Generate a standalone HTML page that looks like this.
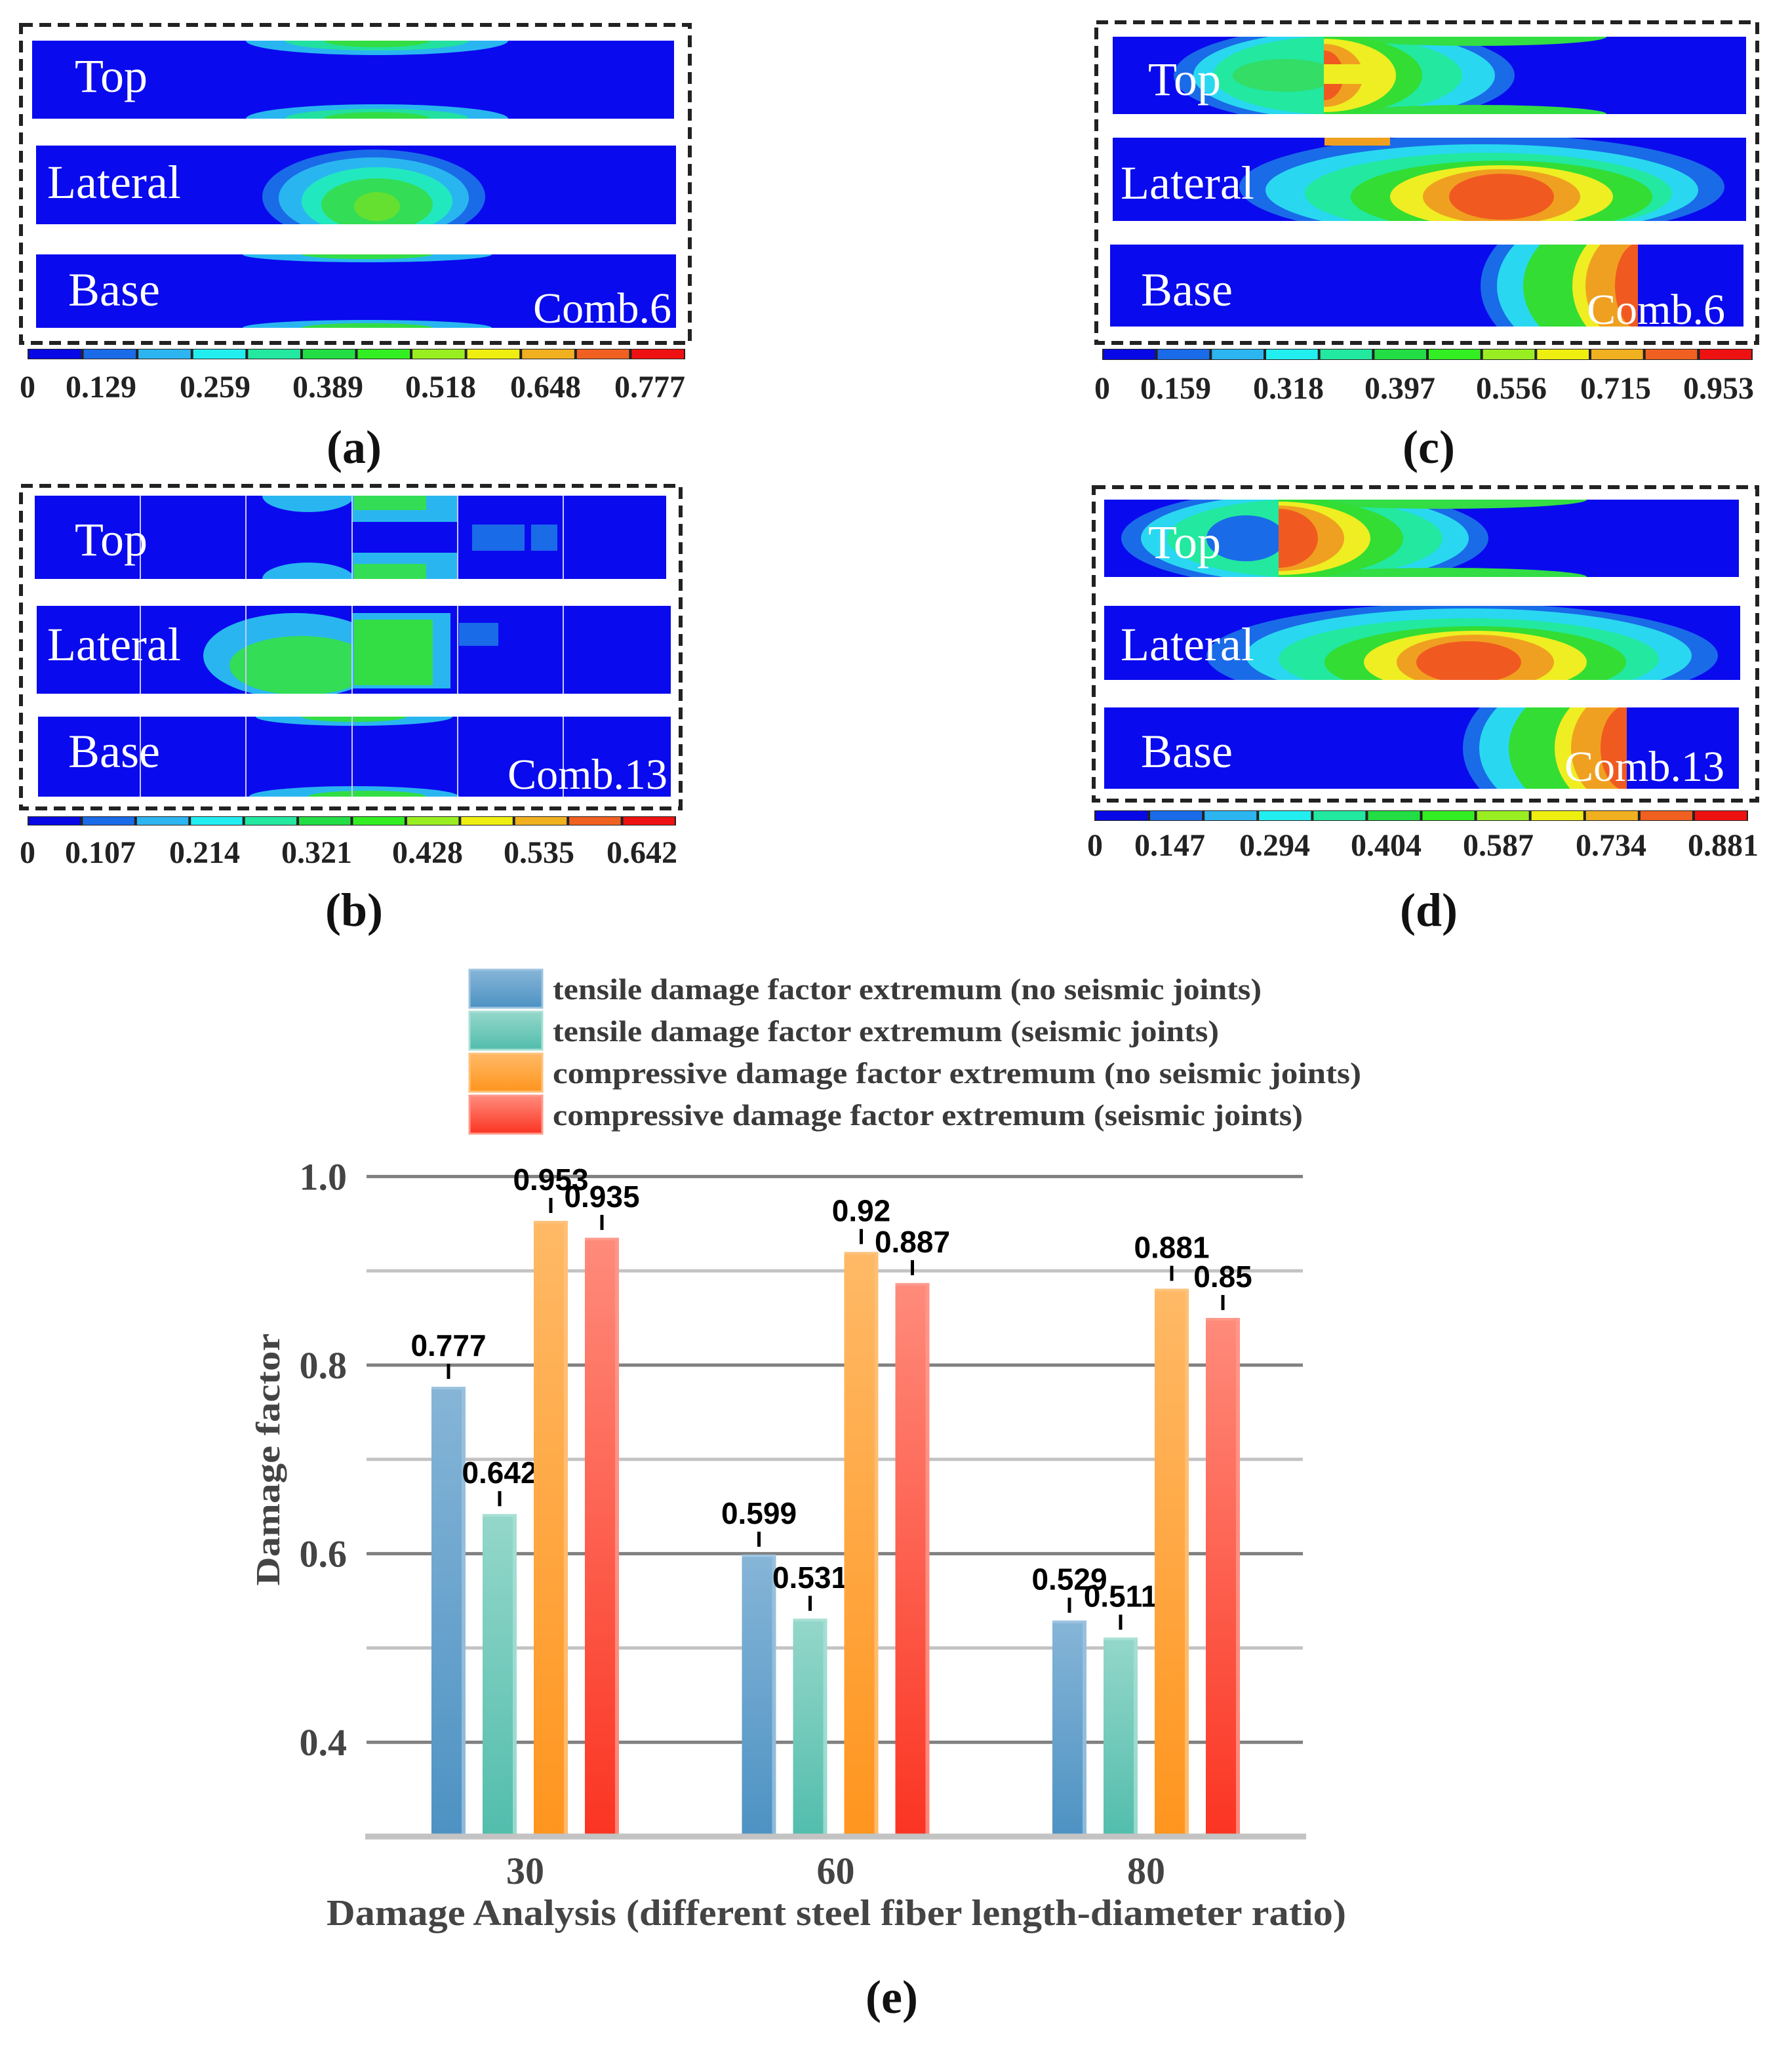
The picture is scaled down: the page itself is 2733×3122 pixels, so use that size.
<!DOCTYPE html>
<html><head><meta charset="utf-8"><style>
html,body{margin:0;padding:0;background:#fff;}
svg{display:block;}
.st{font-family:"Liberation Serif",serif;fill:#fff;}
.cb{font-family:"Liberation Serif",serif;font-weight:bold;fill:#222;font-size:48px;}
.pl{font-family:"Liberation Serif",serif;font-weight:bold;fill:#111;font-size:72px;}
.ax{font-family:"Liberation Serif",serif;font-weight:bold;fill:#444;}
.lg{font-family:"Liberation Serif",serif;font-weight:bold;fill:#3a3a3a;}
.dl{font-family:"Liberation Sans",Arial,sans-serif;font-weight:bold;fill:#000;font-size:46px;}
</style></head><body>
<svg id="fig" width="2733" height="3122" viewBox="0 0 2733 3122" xmlns="http://www.w3.org/2000/svg">
<defs>
 <linearGradient id="gBlue" x1="0" y1="0" x2="0" y2="1"><stop offset="0" stop-color="#86b5d7"/><stop offset="1" stop-color="#4d92c3"/></linearGradient>
 <linearGradient id="gTeal" x1="0" y1="0" x2="0" y2="1"><stop offset="0" stop-color="#94d7ca"/><stop offset="1" stop-color="#52bdac"/></linearGradient>
 <linearGradient id="gOrange" x1="0" y1="0" x2="0" y2="1"><stop offset="0" stop-color="#ffb966"/><stop offset="1" stop-color="#ff951e"/></linearGradient>
 <linearGradient id="gRed" x1="0" y1="0" x2="0" y2="1"><stop offset="0" stop-color="#ff8b7b"/><stop offset="1" stop-color="#fb3422"/></linearGradient>
 <clipPath id="cA1"><rect x="49" y="62" width="979" height="119"/></clipPath>
 <clipPath id="cA2"><rect x="55" y="222" width="976" height="120"/></clipPath>
 <clipPath id="cA3"><rect x="55" y="388" width="976" height="112"/></clipPath>
 <clipPath id="cB1"><rect x="53" y="756" width="963" height="127"/></clipPath>
 <clipPath id="cB2"><rect x="56" y="924" width="967" height="134"/></clipPath>
 <clipPath id="cB3"><rect x="58" y="1093" width="965" height="122"/></clipPath>
 <clipPath id="cC1"><rect x="1697" y="56" width="966" height="118"/></clipPath>
 <clipPath id="cC1r"><rect x="2019" y="56" width="644" height="118"/></clipPath>
 <clipPath id="cC2"><rect x="1697" y="210" width="966" height="127"/></clipPath>
 <clipPath id="cC3"><rect x="1693" y="373" width="805" height="125"/></clipPath>
 <clipPath id="cD1"><rect x="1684" y="762" width="968" height="118"/></clipPath>
 <clipPath id="cD1r"><rect x="1950" y="762" width="702" height="118"/></clipPath>
 <clipPath id="cD2"><rect x="1684" y="924" width="970" height="113"/></clipPath>
 <clipPath id="cD3"><rect x="1684" y="1079" width="797" height="124"/></clipPath>
</defs>

<!-- Panel a -->
<g>
 <rect x="32" y="38" width="1020" height="485" fill="none" stroke="#222" stroke-width="6" stroke-dasharray="18 10"/>
 <rect x="49" y="62" width="979" height="119" fill="#0a0aee"/>
 <g clip-path="url(#cA1)">
  <ellipse cx="575" cy="62" rx="200" ry="22" fill="#29b6f0"/><ellipse cx="575" cy="62" rx="140" ry="15" fill="#22e0a0"/><ellipse cx="575" cy="62" rx="80" ry="10" fill="#33dd44"/>
  <ellipse cx="575" cy="181" rx="200" ry="22" fill="#29b6f0"/><ellipse cx="575" cy="181" rx="140" ry="15" fill="#22e0a0"/><ellipse cx="575" cy="181" rx="80" ry="10" fill="#33dd44"/>
 </g>
 <rect x="55" y="222" width="976" height="120" fill="#0a0aee"/>
 <g clip-path="url(#cA2)">
  <ellipse cx="570" cy="300" rx="170" ry="72" fill="#1a6be8"/><ellipse cx="570" cy="302" rx="145" ry="62" fill="#29b6f0"/><ellipse cx="575" cy="307" rx="115" ry="52" fill="#22e8c0"/><ellipse cx="575" cy="312" rx="85" ry="40" fill="#33dd55"/><ellipse cx="575" cy="315" rx="35" ry="22" fill="#66e030"/>
 </g>
 <rect x="55" y="388" width="976" height="112" fill="#0a0aee"/>
 <g clip-path="url(#cA3)">
  <ellipse cx="560" cy="388" rx="190" ry="12" fill="#29b6f0"/><ellipse cx="560" cy="388" rx="100" ry="7" fill="#33dd44"/>
  <ellipse cx="560" cy="500" rx="190" ry="12" fill="#29b6f0"/><ellipse cx="560" cy="500" rx="100" ry="7" fill="#33dd44"/>
 </g>
 <text class="st" font-family="Liberation Serif, serif" x="114" y="140" font-size="72">Top</text>
 <text class="st" font-family="Liberation Serif, serif" x="72" y="302" font-size="72">Lateral</text>
 <text class="st" font-family="Liberation Serif, serif" x="104" y="466" font-size="72">Base</text>
 <text class="st" font-family="Liberation Serif, serif" x="1024" y="492" font-size="66" text-anchor="end">Comb.6</text>
 <g class="cbar" data-x0="42" data-x1="1045" data-y="532" data-h="16"></g>
 <text class="cb" x="42" y="606" text-anchor="middle">0</text><text class="cb" x="154" y="606" text-anchor="middle">0.129</text><text class="cb" x="328" y="606" text-anchor="middle">0.259</text><text class="cb" x="500" y="606" text-anchor="middle">0.389</text><text class="cb" x="672" y="606" text-anchor="middle">0.518</text><text class="cb" x="832" y="606" text-anchor="middle">0.648</text><text class="cb" x="991" y="606" text-anchor="middle">0.777</text>
 <text class="pl" x="540" y="706" text-anchor="middle">(a)</text>
</g>

<!-- Panel b -->
<g>
 <rect x="53" y="756" width="963" height="127" fill="#0a0aee"/>
 <g clip-path="url(#cB1)">
  <ellipse cx="470" cy="756" rx="70" ry="25" fill="#29b6f0"/>
  <ellipse cx="470" cy="883" rx="70" ry="25" fill="#29b6f0"/>
  <rect x="537" y="756" width="161" height="40" fill="#29b6f0"/><rect x="540" y="756" width="110" height="22" fill="#33dd55"/>
  <rect x="537" y="843" width="161" height="40" fill="#29b6f0"/><rect x="540" y="860" width="110" height="23" fill="#33dd55"/>
  <rect x="720" y="800" width="80" height="40" fill="#1a6be8"/><rect x="810" y="800" width="40" height="40" fill="#1a6be8"/>
 </g>
 <rect x="56" y="924" width="967" height="134" fill="#0a0aee"/>
 <g clip-path="url(#cB2)">
  <ellipse cx="450" cy="1000" rx="140" ry="65" fill="#29b6f0"/><ellipse cx="460" cy="1015" rx="110" ry="45" fill="#33dd55"/>
  <rect x="537" y="935" width="150" height="115" fill="#29b6f0"/><rect x="540" y="945" width="120" height="100" fill="#33dd44"/>
  <rect x="700" y="950" width="60" height="35" fill="#1a6be8"/>
 </g>
 <rect x="58" y="1093" width="965" height="122" fill="#0a0aee"/>
 <g clip-path="url(#cB3)">
  <ellipse cx="540" cy="1093" rx="150" ry="14" fill="#29b6f0"/><ellipse cx="540" cy="1093" rx="80" ry="8" fill="#33dd44"/>
  <ellipse cx="540" cy="1215" rx="160" ry="16" fill="#29b6f0"/><ellipse cx="560" cy="1215" rx="90" ry="9" fill="#33dd44"/>
 </g>
 <g stroke="#c8c8ff" stroke-width="2">
  <line x1="214" y1="756" x2="214" y2="1215"/><line x1="375" y1="756" x2="375" y2="1215"/><line x1="537" y1="756" x2="537" y2="1215"/><line x1="698" y1="756" x2="698" y2="1215"/><line x1="859" y1="756" x2="859" y2="1215"/>
 </g>
 <rect x="45" y="883" width="985" height="41" fill="#fff"/><rect x="45" y="1058" width="985" height="35" fill="#fff"/>
 <rect x="32" y="741" width="1006" height="492" fill="none" stroke="#222" stroke-width="6" stroke-dasharray="18 10"/>
 <text class="st" font-family="Liberation Serif, serif" x="114" y="847" font-size="72">Top</text>
 <text class="st" font-family="Liberation Serif, serif" x="72" y="1007" font-size="72">Lateral</text>
 <text class="st" font-family="Liberation Serif, serif" x="104" y="1170" font-size="72">Base</text>
 <text class="st" font-family="Liberation Serif, serif" x="1018" y="1203" font-size="66" text-anchor="end">Comb.13</text>
 <g class="cbar" data-x0="42" data-x1="1031" data-y="1245" data-h="14"></g>
 <text class="cb" x="42" y="1316" text-anchor="middle">0</text><text class="cb" x="153" y="1316" text-anchor="middle">0.107</text><text class="cb" x="312" y="1316" text-anchor="middle">0.214</text><text class="cb" x="483" y="1316" text-anchor="middle">0.321</text><text class="cb" x="652" y="1316" text-anchor="middle">0.428</text><text class="cb" x="822" y="1316" text-anchor="middle">0.535</text><text class="cb" x="979" y="1316" text-anchor="middle">0.642</text>
 <text class="pl" x="540" y="1412" text-anchor="middle">(b)</text>
</g>

<!-- Panel c -->
<g>
 <rect x="1697" y="56" width="966" height="118" fill="#0a0aee"/>
 <g clip-path="url(#cC1)">
  <ellipse cx="2050" cy="115" rx="260" ry="75" fill="#1a6be8"/>
  <ellipse cx="2050" cy="115" rx="230" ry="68" fill="#29d8f0"/>
  <ellipse cx="2040" cy="115" rx="190" ry="60" fill="#22e8a0"/>
  <ellipse cx="2250" cy="56" rx="200" ry="14" fill="#33dd44"/><ellipse cx="2250" cy="174" rx="200" ry="14" fill="#33dd44"/>
  <ellipse cx="1960" cy="115" rx="80" ry="25" fill="#33dd66"/>
 </g>
 <g clip-path="url(#cC1r)">
  <ellipse cx="2019" cy="115" rx="150" ry="62" fill="#33dd33"/><ellipse cx="2019" cy="115" rx="110" ry="56" fill="#eeee22"/><ellipse cx="2019" cy="115" rx="60" ry="48" fill="#f0a020"/><ellipse cx="2019" cy="115" rx="30" ry="38" fill="#f05a20"/>
  <rect x="2019" y="98" width="60" height="30" fill="#eeee22"/>
 </g>
 <rect x="1697" y="210" width="966" height="127" fill="#0a0aee"/>
 <g clip-path="url(#cC2)">
  <ellipse cx="2260" cy="285" rx="370" ry="80" fill="#1a6be8"/><ellipse cx="2260" cy="290" rx="330" ry="70" fill="#29d8f0"/><ellipse cx="2270" cy="295" rx="280" ry="62" fill="#22e8a0"/><ellipse cx="2290" cy="300" rx="230" ry="55" fill="#33dd33"/><ellipse cx="2290" cy="300" rx="170" ry="48" fill="#eeee22"/><ellipse cx="2290" cy="300" rx="120" ry="42" fill="#f0a020"/><ellipse cx="2290" cy="300" rx="80" ry="35" fill="#f05a20"/>
  <rect x="2020" y="210" width="100" height="12" fill="#f0a020"/>
 </g>
 <rect x="1693" y="373" width="966" height="125" fill="#0a0aee"/>
 <g clip-path="url(#cC3)">
  <ellipse cx="2498" cy="436" rx="240" ry="140" fill="#1a6be8"/><ellipse cx="2498" cy="436" rx="215" ry="130" fill="#29d8f0"/><ellipse cx="2498" cy="436" rx="175" ry="120" fill="#33dd33"/><ellipse cx="2498" cy="436" rx="100" ry="100" fill="#eeee22"/><ellipse cx="2498" cy="436" rx="80" ry="90" fill="#f0a020"/><ellipse cx="2498" cy="436" rx="35" ry="65" fill="#f05a20"/>
 </g>
 <rect x="1685" y="174" width="985" height="36" fill="#fff"/><rect x="1685" y="337" width="985" height="36" fill="#fff"/>
 <rect x="1672" y="34" width="1008" height="489" fill="none" stroke="#222" stroke-width="6" stroke-dasharray="18 10"/>
 <text class="st" font-family="Liberation Serif, serif" x="1751" y="145" font-size="72">Top</text>
 <text class="st" font-family="Liberation Serif, serif" x="1709" y="303" font-size="72">Lateral</text>
 <text class="st" font-family="Liberation Serif, serif" x="1740" y="466" font-size="72">Base</text>
 <text class="st" font-family="Liberation Serif, serif" x="2631" y="494" font-size="66" text-anchor="end">Comb.6</text>
 <g class="cbar" data-x0="1681" data-x1="2673" data-y="532" data-h="17"></g>
 <text class="cb" x="1681" y="608" text-anchor="middle">0</text><text class="cb" x="1793" y="608" text-anchor="middle">0.159</text><text class="cb" x="1965" y="608" text-anchor="middle">0.318</text><text class="cb" x="2135" y="608" text-anchor="middle">0.397</text><text class="cb" x="2305" y="608" text-anchor="middle">0.556</text><text class="cb" x="2464" y="608" text-anchor="middle">0.715</text><text class="cb" x="2621" y="608" text-anchor="middle">0.953</text>
 <text class="pl" x="2179" y="706" text-anchor="middle">(c)</text>
</g>

<!-- Panel d -->
<g>
 <rect x="1684" y="762" width="968" height="118" fill="#0a0aee"/>
 <g clip-path="url(#cD1)">
  <ellipse cx="1990" cy="821" rx="280" ry="75" fill="#1a6be8"/><ellipse cx="1990" cy="821" rx="250" ry="68" fill="#29d8f0"/><ellipse cx="1990" cy="821" rx="210" ry="60" fill="#22e8a0"/>
  <ellipse cx="2200" cy="762" rx="220" ry="14" fill="#33dd44"/><ellipse cx="2200" cy="880" rx="220" ry="14" fill="#33dd44"/>
  <ellipse cx="1900" cy="821" rx="60" ry="35" fill="#1a6be8"/>
 </g>
 <g clip-path="url(#cD1r)">
  <ellipse cx="1950" cy="821" rx="190" ry="62" fill="#33dd33"/><ellipse cx="1950" cy="821" rx="140" ry="56" fill="#eeee22"/><ellipse cx="1950" cy="821" rx="100" ry="50" fill="#f0a020"/><ellipse cx="1950" cy="821" rx="60" ry="45" fill="#f05a20"/>
 </g>
 <rect x="1684" y="924" width="970" height="113" fill="#0a0aee"/>
 <g clip-path="url(#cD2)">
  <ellipse cx="2230" cy="1000" rx="390" ry="80" fill="#1a6be8"/><ellipse cx="2240" cy="1000" rx="340" ry="72" fill="#29d8f0"/><ellipse cx="2240" cy="1005" rx="290" ry="62" fill="#22e8a0"/><ellipse cx="2250" cy="1010" rx="230" ry="55" fill="#33dd33"/><ellipse cx="2250" cy="1010" rx="170" ry="48" fill="#eeee22"/><ellipse cx="2250" cy="1010" rx="120" ry="42" fill="#f0a020"/><ellipse cx="2240" cy="1010" rx="80" ry="32" fill="#f05a20"/>
 </g>
 <rect x="1684" y="1079" width="968" height="124" fill="#0a0aee"/>
 <g clip-path="url(#cD3)">
  <ellipse cx="2481" cy="1141" rx="250" ry="140" fill="#1a6be8"/><ellipse cx="2481" cy="1141" rx="225" ry="130" fill="#29d8f0"/><ellipse cx="2481" cy="1141" rx="180" ry="120" fill="#33dd33"/><ellipse cx="2481" cy="1141" rx="110" ry="100" fill="#eeee22"/><ellipse cx="2481" cy="1141" rx="85" ry="90" fill="#f0a020"/><ellipse cx="2481" cy="1141" rx="40" ry="65" fill="#f05a20"/>
 </g>
 <rect x="1675" y="880" width="995" height="44" fill="#fff"/><rect x="1675" y="1037" width="995" height="42" fill="#fff"/>
 <rect x="1668" y="743" width="1012" height="478" fill="none" stroke="#222" stroke-width="6" stroke-dasharray="18 10"/>
 <text class="st" font-family="Liberation Serif, serif" x="1751" y="851" font-size="72">Top</text>
 <text class="st" font-family="Liberation Serif, serif" x="1709" y="1007" font-size="72">Lateral</text>
 <text class="st" font-family="Liberation Serif, serif" x="1740" y="1170" font-size="72">Base</text>
 <text class="st" font-family="Liberation Serif, serif" x="2630" y="1191" font-size="66" text-anchor="end">Comb.13</text>
 <g class="cbar" data-x0="1669" data-x1="2666" data-y="1236" data-h="16"></g>
 <text class="cb" x="1670" y="1305" text-anchor="middle">0</text><text class="cb" x="1784" y="1305" text-anchor="middle">0.147</text><text class="cb" x="1944" y="1305" text-anchor="middle">0.294</text><text class="cb" x="2114" y="1305" text-anchor="middle">0.404</text><text class="cb" x="2285" y="1305" text-anchor="middle">0.587</text><text class="cb" x="2457" y="1305" text-anchor="middle">0.734</text><text class="cb" x="2628" y="1305" text-anchor="middle">0.881</text>
 <text class="pl" x="2179" y="1412" text-anchor="middle">(d)</text>
</g>

<!-- Chart e -->
<g id="chart"></g>
<text class="pl" x="1360" y="3070" text-anchor="middle">(e)</text>
</svg>
<script>
const NS = "http://www.w3.org/2000/svg";
const categories = ["30", "60", "80"];
const seriesNames = [
  "tensile damage factor extremum (no seismic joints)",
  "tensile damage factor extremum (seismic joints)",
  "compressive damage factor extremum (no seismic joints)",
  "compressive damage factor extremum (seismic joints)"
];
const tensileNoJoint = [0.777, 0.599, 0.529];
const tensileJoint = [0.642, 0.531, 0.511];
const compNoJoint = [0.953, 0.92, 0.881];
const compJoint = [0.935, 0.887, 0.85];
const yTicks = [0.4, 0.6, 0.8, 1.0];
const yTickLabels = ["0.4", "0.6", "0.8", "1.0"];
const yGrid = [0.4, 0.5, 0.6, 0.7, 0.8, 0.9, 1.0];
const colorbarColors = ["#0808e6","#1a6be8","#2cb5f0","#22eef0","#22e8a0","#22dd44","#33ee22","#99ee22","#eeee11","#f0b020","#f06020","#ee1111"];

function mk(tag, attrs, parent) {
  const e = document.createElementNS(NS, tag);
  for (const k in attrs) e.setAttribute(k, attrs[k]);
  parent.appendChild(e);
  return e;
}

document.querySelectorAll('.cbar').forEach(g => {
  const x0 = +g.dataset.x0, x1 = +g.dataset.x1, y = +g.dataset.y, h = +g.dataset.h;
  
  
  mk('rect', {x: x0, y: y, width: x1 - x0, height: h, fill: '#222'}, g);
  const w = (x1 - x0) / colorbarColors.length;
  colorbarColors.forEach((c, i) => {
    const r = mk('rect', {x: x0 + i * w + 2, y: y + 1, width: w - 4, height: h - 2, fill: c}, g);
    
    
  });
});

const chart = document.getElementById('chart');
const plotL = 559, plotR = 1992;
const y0v = 0.3, y0px = 2801, pxPerUnit = 1438;
const yScale = v => y0px - (v - y0v) * pxPerUnit;
const groupCenter = i => 801 + i * 473.5;
const barW = 52, barStep = 78;
const series = [tensileNoJoint, tensileJoint, compNoJoint, compJoint];
const fills = ["url(#gBlue)", "url(#gTeal)", "url(#gOrange)", "url(#gRed)"];
const edge = ["#9cc3e0", "#a8e0d5", "#ffc27a", "#ff9a8c"];

yGrid.forEach(v => {
  const major = yTicks.some(t => Math.abs(t - v) < 1e-9);
  const l = mk('line', {x1: plotL, x2: plotR - 5, y1: yScale(v), y2: yScale(v), stroke: major ? '#808080' : '#c3c3c3', 'stroke-width': 5}, chart);
  
  
});
yTicks.forEach((v, i) => {
  const t = mk('text', {x: 529, y: yScale(v) + 20, 'text-anchor': 'end', class: 'ax', 'font-size': 58}, chart);
  t.textContent = yTickLabels[i];
  
  
});
const yt = mk('text', {x: 0, y: 0, transform: 'translate(426,2226) rotate(-90)', 'text-anchor': 'middle', class: 'ax', 'font-size': 52, textLength: 385, lengthAdjust: 'spacingAndGlyphs'}, chart);
yt.textContent = 'Damage factor';



series.forEach((vals, s) => {
  vals.forEach((v, i) => {
    const cx = groupCenter(i) + (s - 1.5) * barStep;
    const top = yScale(v);
    const b = mk('rect', {x: cx - barW / 2, y: top, width: barW, height: y0px - top, fill: fills[s]}, chart);
    
    
    mk('rect', {x: cx + barW / 2 - 6, y: top, width: 6, height: y0px - top, fill: edge[s], opacity: 0.8}, chart);
    mk('rect', {x: cx - barW / 2, y: top, width: barW, height: 4, fill: edge[s]}, chart);
    mk('line', {x1: cx, x2: cx, y1: top - 12, y2: top - 35, stroke: '#000', 'stroke-width': 5}, chart);
    const t = mk('text', {x: cx, y: top - 47, 'text-anchor': 'middle', class: 'dl'}, chart);
    t.textContent = String(v);
    
    
  });
});

const xa = mk('line', {x1: plotL - 2, x2: plotR, y1: y0px, y2: y0px, stroke: '#c3c3c3', 'stroke-width': 9}, chart);


categories.forEach((c, i) => {
  const t = mk('text', {x: groupCenter(i), y: 2873, 'text-anchor': 'middle', class: 'ax', 'font-size': 58}, chart);
  t.textContent = c;
  
  
});
const xt = mk('text', {x: 498, y: 2936, class: 'ax', 'font-size': 56, textLength: 1555, lengthAdjust: 'spacingAndGlyphs'}, chart);
xt.textContent = 'Damage Analysis (different steel fiber length-diameter ratio)';



const legendLens = [1081, 1016, 1233, 1144];
seriesNames.forEach((n, s) => {
  const y = 1479 + s * 64;
  const sw = mk('rect', {x: 716, y: y, width: 111, height: 58, fill: fills[s], stroke: edge[s], 'stroke-width': 3}, chart);
  
  
  const t = mk('text', {x: 843, y: y + 45, class: 'lg', 'font-size': 46, textLength: legendLens[s], lengthAdjust: 'spacingAndGlyphs'}, chart);
  t.textContent = n;
  
  
});
</script>
</body></html>
